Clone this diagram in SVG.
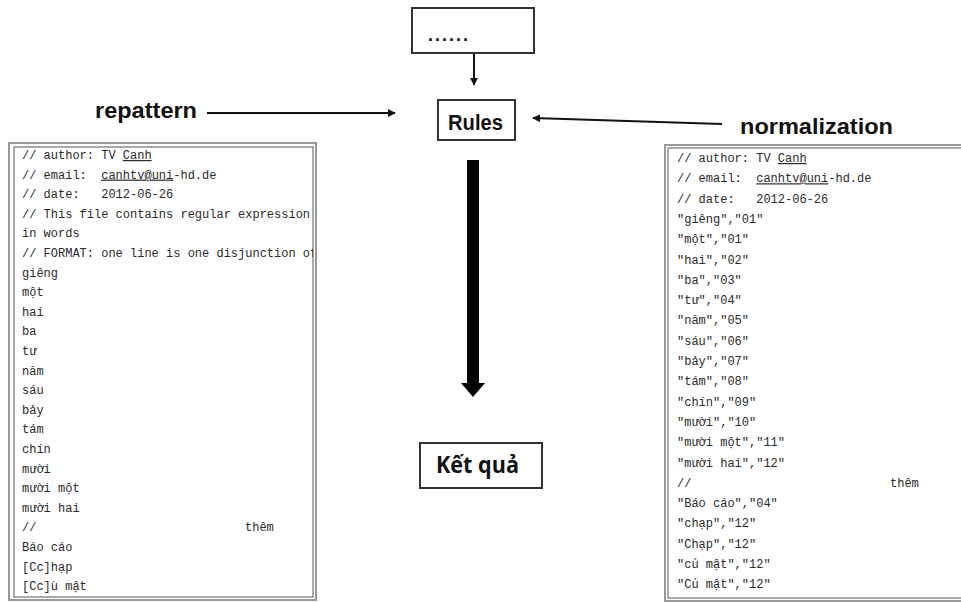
<svg xmlns="http://www.w3.org/2000/svg" width="961" height="602" viewBox="0 0 961 602">
<style>
.box{fill:#fff;stroke:#333;stroke-width:2}
.lbl{font-family:"Liberation Sans",Arial,sans-serif;font-weight:bold;fill:#111}
.code{font-family:"Liberation Mono","DejaVu Sans Mono",monospace;font-size:12px;fill:#2a2a2a;white-space:pre}
.u{text-decoration:underline}
.outer{fill:#fff;stroke:#999;stroke-width:2}
.inner{fill:none;stroke:#555;stroke-width:1}
.thin{stroke:#111;stroke-width:2;fill:none}
</style>
<defs>
<marker id="ah" viewBox="0 0 10 10" refX="9" refY="5" markerWidth="4" markerHeight="4" orient="auto" markerUnits="strokeWidth">
<path d="M0,0 L10,5 L0,10 z" fill="#111"/>
</marker>
<clipPath id="clipL"><rect x="14" y="147" width="299" height="450"/></clipPath>
<clipPath id="clipR"><rect x="668" y="148" width="293" height="454"/></clipPath>
</defs>
<rect width="961" height="602" fill="#fff"/>

<g id="connectors">
<line class="thin" x1="474" y1="53" x2="474" y2="85" marker-end="url(#ah)"/>
<line class="thin" x1="207" y1="113" x2="395" y2="113" marker-end="url(#ah)"/>
<line class="thin" x1="722" y1="124" x2="533" y2="118" marker-end="url(#ah)"/>
<g id="thick-arrow">
<rect x="467" y="160" width="12" height="224" fill="#000"/>
<polygon points="461,383 485,383 473,397" fill="#000"/>
</g>
</g>

<g id="node-dots">
<rect class="box" x="412" y="8" width="122" height="45"/>
<text class="lbl" x="428" y="41" font-size="18" letter-spacing="2">......</text>
</g>

<g id="node-rules">
<rect class="box" x="438" y="100" width="77" height="40"/>
<text class="lbl" x="448" y="130" font-size="22" textLength="55" lengthAdjust="spacingAndGlyphs">Rules</text>
</g>

<g id="node-repattern">
<text class="lbl" x="95" y="118" font-size="22" textLength="102" lengthAdjust="spacingAndGlyphs">repattern</text>
</g>

<g id="node-normalization">
<text class="lbl" x="740" y="134" font-size="22" textLength="153" lengthAdjust="spacingAndGlyphs">normalization</text>
</g>

<g id="node-ketqua">
<rect class="box" x="420" y="443" width="122" height="45"/>
<text x="436" y="473" font-family="'Open Sans','Noto Sans',sans-serif" font-weight="bold" font-size="23" fill="#111" textLength="83" lengthAdjust="spacingAndGlyphs">Kết quả</text>
</g>

<g id="node-left-file">
<rect class="outer" x="9" y="143" width="307" height="457"/>
<rect class="inner" x="14" y="147" width="299" height="450"/>
<g clip-path="url(#clipL)">
<text class="code" xml:space="preserve" x="22" y="159">// author: TV <tspan class="u">Canh</tspan></text>
<text class="code" xml:space="preserve" x="22" y="178.6">// email:  <tspan class="u">canhtv@uni</tspan>-hd.de</text>
<text class="code" xml:space="preserve" x="22" y="198.2">// date:   2012-06-26</text>
<text class="code" xml:space="preserve" x="22" y="217.8">// This file contains regular expression</text>
<text class="code" x="22" y="237.4">in words</text>
<text class="code" xml:space="preserve" x="22" y="257">// FORMAT: one line is one disjunction of</text>
<text class="code" x="22" y="276.6">giêng</text>
<text class="code" x="22" y="296.2">một</text>
<text class="code" x="22" y="315.8">hai</text>
<text class="code" x="22" y="335.4">ba</text>
<text class="code" x="22" y="355">tư</text>
<text class="code" x="22" y="374.6">năm</text>
<text class="code" x="22" y="394.2">sáu</text>
<text class="code" x="22" y="413.8">bảy</text>
<text class="code" x="22" y="433.4">tám</text>
<text class="code" x="22" y="453">chín</text>
<text class="code" x="22" y="472.6">mười</text>
<text class="code" x="22" y="492.2">mười một</text>
<text class="code" x="22" y="511.8">mười hai</text>
<text class="code" x="22" y="531.4">//</text>
<text class="code" x="245" y="531.4">thêm</text>
<text class="code" x="22" y="551">Báo cáo</text>
<text class="code" x="22" y="570.6">[Cc]hạp</text>
<text class="code" x="22" y="590.2">[Cc]ù mật</text>
</g>
</g>

<g id="node-right-file">
<rect class="outer" x="665" y="145" width="310" height="456"/>
<rect class="inner" x="668" y="148" width="310" height="450"/>
<g clip-path="url(#clipR)">
<text class="code" xml:space="preserve" x="677" y="162">// author: TV <tspan class="u">Canh</tspan></text>
<text class="code" xml:space="preserve" x="677" y="182.3">// email:  <tspan class="u">canhtv@uni</tspan>-hd.de</text>
<text class="code" xml:space="preserve" x="677" y="202.6">// date:   2012-06-26</text>
<text class="code" x="677" y="222.9">"giêng","01"</text>
<text class="code" x="677" y="243.2">"một","01"</text>
<text class="code" x="677" y="263.5">"hai","02"</text>
<text class="code" x="677" y="283.8">"ba","03"</text>
<text class="code" x="677" y="304.1">"tư","04"</text>
<text class="code" x="677" y="324.4">"năm","05"</text>
<text class="code" x="677" y="344.7">"sáu","06"</text>
<text class="code" x="677" y="365">"bảy","07"</text>
<text class="code" x="677" y="385.3">"tám","08"</text>
<text class="code" x="677" y="405.6">"chín","09"</text>
<text class="code" x="677" y="425.9">"mười","10"</text>
<text class="code" x="677" y="446.2">"mười một","11"</text>
<text class="code" x="677" y="466.5">"mười hai","12"</text>
<text class="code" x="677" y="486.8">//</text>
<text class="code" x="890" y="486.8">thêm</text>
<text class="code" x="677" y="507.1">"Báo cáo","04"</text>
<text class="code" x="677" y="527.4">"chạp","12"</text>
<text class="code" x="677" y="547.7">"Chạp","12"</text>
<text class="code" x="677" y="568">"củ mật","12"</text>
<text class="code" x="677" y="588.3">"Củ mật","12"</text>
</g>
</g>
</svg>
